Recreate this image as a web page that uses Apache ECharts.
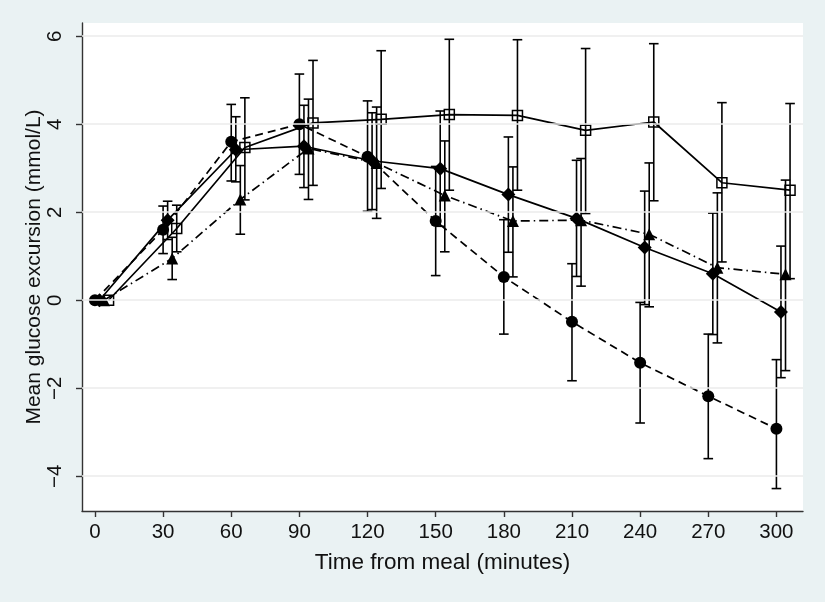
<!DOCTYPE html>
<html><head><meta charset="utf-8">
<script src="https://cdn.jsdelivr.net/npm/echarts@6/dist/echarts.min.js"></script>
<style>html,body{margin:0;padding:0;background:#eaf2f3;} #c{width:825px;height:602px;}</style>
</head><body><div id="c"></div>
<script>
// time points (minutes) and per-group horizontal jitter
const times = [0, 30, 60, 90, 120, 150, 180, 210, 240, 270, 300];
const offsets = [0, 2, 4, 6];
const xTicks = [0, 30, 60, 90, 120, 150, 180, 210, 240, 270, 300];
const yTicks = [-4, -2, 0, 2, 4, 6];

// group 1: filled circles, dashed line
const circleMean = [0, 1.60, 3.60, 4.00, 3.26, 1.80, 0.53, -0.49, -1.42, -2.18, -2.92];
const circleLow  = [0, 1.06, 2.71, 2.86, 2.02, 0.56, -0.77, -1.83, -2.79, -3.60, -4.28];
const circleHigh = [0, 2.14, 4.45, 5.14, 4.53, 3.04, 1.83, 0.83, -0.05, -0.77, -1.35];
// group 2: filled diamonds, solid line
const diamondMean = [0, 1.82, 3.42, 3.50, 3.17, 2.99, 2.40, 1.86, 1.20, 0.60, -0.27];
const diamondLow  = [0, 1.38, 2.69, 2.56, 2.06, 1.68, 1.09, 0.54, -0.10, -0.78, -1.76];
const diamondHigh = [0, 2.25, 4.17, 4.43, 4.26, 4.30, 3.71, 3.18, 2.48, 1.98, 1.23];
// group 3: filled triangles, dash-dot line
const triangleMean = [0, 0.95, 2.29, 3.45, 3.12, 2.38, 1.80, 1.82, 1.50, 0.74, 0.59];
const triangleLow  = [0, 0.47, 1.50, 2.29, 1.86, 1.10, 0.53, 0.32, -0.15, -0.97, -1.60];
const triangleHigh = [0, 1.43, 3.06, 4.57, 4.39, 3.62, 3.03, 3.22, 3.12, 2.44, 2.73];
// group 4: hollow squares, solid line
const squareMean = [0, 1.63, 3.47, 4.03, 4.11, 4.22, 4.20, 3.86, 4.05, 2.67, 2.50];
const squareLow  = [0, 1.10, 2.28, 2.61, 2.54, 2.50, 2.50, 1.97, 2.26, 0.87, 0.49];
const squareHigh = [0, 2.16, 4.60, 5.45, 5.67, 5.93, 5.92, 5.72, 5.83, 4.49, 4.47];

const FONT = '"Liberation Sans", Arial, Helvetica, sans-serif';
const chart = echarts.init(document.getElementById('c'), null, {renderer: 'canvas'});

function errSeries(off, low, high) {
  const data = times.map((t, i) => [t + off, low[i], high[i]]).filter(d => d[1] !== d[2]);
  return {
    type: 'custom', data: data, silent: true, z: 3,
    encode: {x: 0, y: [1, 2]},
    renderItem: function (params, api) {
      const x = api.value(0), lo = api.value(1), hi = api.value(2);
      const p1 = api.coord([x, lo]), p2 = api.coord([x, hi]);
      const w = 4.8;
      const style = {stroke: '#000', lineWidth: 1.6, fill: null};
      return {type: 'group', children: [
        {type: 'line', shape: {x1: p1[0], y1: p1[1], x2: p2[0], y2: p2[1]}, style: style},
        {type: 'line', shape: {x1: p1[0] - w, y1: p1[1], x2: p1[0] + w, y2: p1[1]}, style: style},
        {type: 'line', shape: {x1: p2[0] - w, y1: p2[1], x2: p2[0] + w, y2: p2[1]}, style: style}
      ]};
    }
  };
}
function lineSeries(off, mean, symbol, size, lineType, hollow) {
  return {
    type: 'line', data: times.map((t, i) => [t + off, mean[i]]), z: 4,
    symbol: symbol, symbolSize: size, showSymbol: true, animation: false,
    lineStyle: {color: '#000', width: 1.7, type: lineType},
    itemStyle: hollow ? {color: 'rgba(255,255,255,0)', borderColor: '#000', borderWidth: 1.5}
                      : {color: '#000', borderWidth: 0}
  };
}

const option = {
  backgroundColor: '#eaf2f3',
  animation: false,
  grid: {left: 82, right: 22, top: 23, bottom: 91, show: true, backgroundColor: '#ffffff', borderWidth: 0},
  xAxis: {
    type: 'value', min: -5.7, max: 311.7,
    axisLine: {show: true, onZero: false, lineStyle: {color: '#333', width: 1.4}},
    axisTick: {show: true, length: 6, customValues: xTicks, lineStyle: {color: '#333', width: 1.4}},
    axisLabel: {customValues: xTicks, fontSize: 20.5, color: '#111', margin: 11, fontFamily: FONT},
    splitLine: {show: false},
    name: 'Time from meal (minutes)', nameLocation: 'middle', nameGap: 40, nameMoveOverlap: false,
    nameTextStyle: {fontSize: 22.5, color: '#111', fontFamily: FONT}
  },
  yAxis: {
    type: 'value', min: -4.79, max: 6.3,
    axisLine: {show: true, onZero: false, lineStyle: {color: '#333', width: 1.4}},
    axisTick: {show: true, length: 6, customValues: yTicks, lineStyle: {color: '#333', width: 1.4}},
    axisLabel: {customValues: yTicks, rotate: 90, fontSize: 20.5, color: '#111', margin: 16, fontFamily: FONT,
      formatter: v => String(v).replace('-', '\u2212')},
    splitLine: {show: false},
    name: 'Mean glucose excursion (mmol/L)', nameLocation: 'middle', nameGap: 37, nameMoveOverlap: false,
    nameTextStyle: {fontSize: 21, color: '#111', fontFamily: FONT}
  },
  series: [
    {
      type: 'line', data: [], silent: true, z: 1,
      markLine: {
        silent: true, symbol: ['none', 'none'], label: {show: false}, animation: false,
        lineStyle: {color: '#ebebeb', width: 1.6, type: 'solid'},
        data: yTicks.map(v => ({yAxis: v}))
      }
    },
    errSeries(offsets[0], circleLow, circleHigh),
    errSeries(offsets[1], diamondLow, diamondHigh),
    errSeries(offsets[2], triangleLow, triangleHigh),
    errSeries(offsets[3], squareLow, squareHigh),
    lineSeries(offsets[0], circleMean, 'circle', 12, [8, 5], false),
    lineSeries(offsets[1], diamondMean, 'diamond', 14, 'solid', false),
    lineSeries(offsets[2], triangleMean, 'triangle', 12, [9, 4, 1.5, 4], false),
    lineSeries(offsets[3], squareMean, 'rect', 10, 'solid', true)
  ]
};
chart.setOption(option);
</script>
</body></html>
